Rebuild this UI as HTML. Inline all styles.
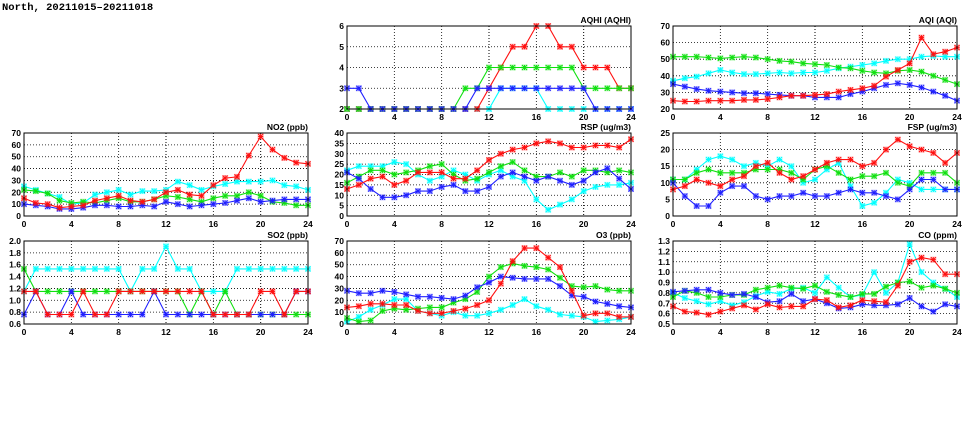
<!DOCTYPE html>
<html><head><meta charset="utf-8"><style>
body{margin:0;background:#fff;width:975px;height:447px;overflow:hidden}
svg{display:block}
text{font-family:"Liberation Sans",sans-serif;font-weight:bold;font-size:8.5px;fill:#000}
</style></head><body>
<svg id="chart" width="975" height="447" viewBox="0 0 975 447" xmlns="http://www.w3.org/2000/svg">
<text x="2" y="10" style="font-family:'Liberation Mono',monospace;font-size:10.5px">North, 20211015–20211018</text>
</svg>
<script>
const hours = [0,1,2,3,4,5,6,7,8,9,10,11,12,13,14,15,16,17,18,19,20,21,22,23,24];
const xTicks = [0,4,8,12,16,20,24];

const aqhiRed   = [2,2,2,2,2,2,2,2,2,2,2,2,3,4,5,5,6,6,5,5,4,4,4,3,3];
const aqhiGreen = [2,2,2,2,2,2,2,2,2,2,3,3,4,4,4,4,4,4,4,4,3,3,3,3,3];
const aqhiBlue  = [3,3,2,2,2,2,2,2,2,2,2,3,3,3,3,3,3,3,3,3,3,2,2,2,2];
const aqhiCyan  = [2,2,2,2,2,2,2,2,2,2,2,2,2,3,3,3,3,2,2,2,2,2,2,2,2];
const aqhiTicks = [2,3,4,5,6];

const aqiRed   = [25,24.5,24.5,25,25,25,25.5,25.5,26,27,28,28,28.5,29,30.5,31.5,32.5,34,39.5,43.5,47.5,63,53,54.5,57];
const aqiGreen = [51.5,51.5,51.5,51,50.5,51,51.5,51,50,49,48.5,47.5,47,46.5,45,44.5,43,42,41.5,43,43.5,42.5,40,37.5,35];
const aqiBlue  = [35,33.5,32,31,30.5,30,29.5,29.5,29,28.5,28,28,27,27,27,29,30.5,32.5,34.5,35.5,34.5,33,30.5,28,25];
const aqiCyan  = [37,38.5,39.5,41.5,43.5,42,41,41,41.5,42,41.5,42,42,43,44.5,45.5,46.5,47.5,49,50,50,51.5,52,51.5,51.5];
const aqiTicks = [20,30,40,50,60,70];

const no2Red   = [15,11,10,7,8,9,13,15,17,13,12,14,20,22,18,17,26,32,33,51,67,56,49,45,44];
const no2Green = [22,21,19,13,11,12,11,13,15,12,12,14,17,16,14,12,15,17,17,20,17,12,11,9,9];
const no2Blue  = [10,9,8,6,6,7,9,9,8,8,9,8,12,10,8,9,10,11,13,15,12,13,14,14,14];
const no2Cyan  = [25,22,19,16,10,11,18,20,22,18,21,21,22,29,26,22,25,27,29,29,29,30,26,25,22];
const no2Ticks = [0,10,20,30,40,50,60,70];

const rspRed   = [13,15,18,19,15,17,21,21,21,18,18,22,27,30,32,33,35,36,35,33,33,34,34,33,37];
const rspGreen = [16,19,22,22,20,21,22,24,25,20,17,18,21,24,26,22,19,19,21,19,22,22,21,22,21];
const rspBlue  = [21,18,13,9,9,10,12,12,14,15,12,12,14,19,21,19,17,19,17,15,17,21,23,18,13];
const rspCyan  = [22,24,24,24,26,25,20,17,19,22,20,17,20,22,19,17,8,3,5.5,8,12,14,15,15,16];
const rspTicks = [0,5,10,15,20,25,30,35,40];

const fspRed   = [8,9,11,10,9,11,12,15,16,13,11,12,14,16,17,17,15,16,20,23,21,20,19,16,19];
const fspGreen = [11,11,13,14,13,13,13,14,14,14,13,11,14,15,13,11,12,12,13,10,9,13,13,13,10];
const fspBlue  = [10,6,3,3,7,9,9,6,5,6,6,7,6,6,7,8,7,7,6,5,8,11,11,8,8];
const fspCyan  = [11,11,14,17,18,17,15,16,15,17,15,10,11,14,16,9,3,4,7,11,10,8,8,8,8];
const fspTicks = [0,5,10,15,20,25];

const so2Red   = [1.15,1.15,0.76,0.76,0.76,1.15,0.76,0.76,1.15,1.15,1.15,1.15,1.15,1.15,1.15,1.15,0.76,0.76,0.76,0.76,1.15,1.15,0.76,1.15,1.15];
const so2Green = [1.53,1.15,1.15,1.15,1.15,1.15,1.15,1.15,1.15,1.15,1.15,1.15,1.15,1.15,0.76,1.15,0.76,1.15,0.76,0.76,0.76,0.76,0.76,0.76,0.76];
const so2Blue  = [0.76,1.15,0.76,0.76,1.15,0.76,0.76,0.76,0.76,0.76,0.76,1.15,0.76,0.76,0.76,0.76,0.76,0.76,0.76,0.76,0.76,0.76,0.76,1.15,1.15];
const so2Cyan  = [1.15,1.53,1.53,1.53,1.53,1.53,1.53,1.53,1.53,1.15,1.53,1.53,1.91,1.53,1.53,1.15,1.15,1.15,1.53,1.53,1.53,1.53,1.53,1.53,1.53];
const so2Ticks = [0.6,0.8,1.0,1.2,1.4,1.6,1.8,2.0];

const o3Red   = [14,15,17,17,16,16,11,9,9,11,13,16,20,34,53,64,64,56,48,28,7,9,9,6,6];
const o3Green = [5,2,3,11,13,12,13,14,14,18,21,27,40,48,51,49,48,46,39,32,31,32,29,28,28];
const o3Blue  = [28,26,26,28,27,25,23,23,22,21,24,31,35,40,39,38,38,38,32,24,23,19,17,15,14];
const o3Cyan  = [2,6,12,16,21,21,11,9,7,10,7,7,9,12,16,21,15,12,8,7,6,2,3,4,6];
const o3Ticks = [0,10,20,30,40,50,60,70];

const coRed   = [0.67,0.62,0.61,0.59,0.62,0.65,0.68,0.64,0.69,0.66,0.67,0.67,0.74,0.73,0.66,0.68,0.73,0.72,0.71,0.87,1.10,1.14,1.12,0.98,0.98];
const coGreen = [0.76,0.82,0.80,0.76,0.76,0.78,0.78,0.83,0.85,0.87,0.85,0.84,0.87,0.81,0.78,0.76,0.79,0.79,0.86,0.90,0.91,0.85,0.87,0.84,0.80];
const coBlue  = [0.81,0.82,0.83,0.83,0.80,0.78,0.79,0.76,0.71,0.72,0.79,0.72,0.74,0.70,0.65,0.66,0.69,0.68,0.68,0.69,0.75,0.67,0.62,0.69,0.67];
const coCyan  = [0.80,0.75,0.72,0.69,0.72,0.68,0.71,0.77,0.81,0.79,0.84,0.85,0.80,0.95,0.85,0.76,0.78,1.00,0.80,0.90,1.27,1.00,0.90,0.84,0.76];
const coTicks = [0.5,0.6,0.7,0.8,0.9,1.0,1.1,1.2,1.3];

const NS = 'http://www.w3.org/2000/svg';
const svg = document.getElementById('chart');
function mk(tag, attrs, parent){const e=document.createElementNS(NS,tag);for(const k in attrs)e.setAttribute(k,attrs[k]);(parent||svg).appendChild(e);return e;}

const COLORS = {red:'#ff1010', green:'#10e010', blue:'#2020ff', cyan:'#00ffff'};

function panel(key, title, left, top, ticks, dec, series){
  const W = 284, H = 83;
  const ymin = ticks[0], ymax = ticks[ticks.length-1];
  const xs = h => left + h / 24 * W;
  const ys = v => top + H - (v - ymin) / (ymax - ymin) * H;
  const g = mk('g', {});
  
  
  ticks.forEach(t => {
    const y = ys(t);
    const gl = mk('line', {x1:left, x2:left+W, y1:y, y2:y, stroke:'#000', 'stroke-width':0.8, 'stroke-dasharray':'1,2'}, g);
    
    
    const tl = mk('text', {x:left-3, y:y+3, 'text-anchor':'end'}, g);
    tl.textContent = t.toFixed(dec);
    
    
  });
  xTicks.forEach(t => {
    const x = xs(t);
    const gl = mk('line', {x1:x, x2:x, y1:top, y2:top+H, stroke:'#000', 'stroke-width':(t===12||t===20)?1:0.8, 'stroke-dasharray':'1,2'}, g);
    
    
    const tl = mk('text', {x:x, y:top+H+11, 'text-anchor':'middle'}, g);
    tl.textContent = t;
    
    
  });
  const tt = mk('text', {x:left+W, y:top-3, 'text-anchor':'end'}, g);
  tt.textContent = title;
  
  
  series.forEach(([cname, vals]) => {
    const c = COLORS[cname];
    const sg = mk('g', {}, g);
    
    
    const pts = [];
    vals.forEach((v,i) => { if (v !== null) pts.push([xs(hours[i]), ys(v)]); });
    const pl = mk('polyline', {points: pts.map(p => p[0].toFixed(1)+','+p[1].toFixed(1)).join(' '), fill:'none', stroke:c, 'stroke-width':1.1}, sg);
    
    
    pts.forEach(([x,y]) => {
      const r = 2.5;
      const p = mk('path', {d:`M${x-r},${y-r}L${x+r},${y+r}M${x-r},${y+r}L${x+r},${y-r}M${x-r},${y}L${x+r},${y}M${x},${y-r}L${x},${y+r}`, stroke:c, 'stroke-width':1, fill:'none'}, sg);
      
      
      const b = mk('rect', {x:x-r, y:y-r, width:2*r, height:2*r, stroke:c, 'stroke-opacity':0.35, 'stroke-width':1, fill:'none'}, sg);
      
      
    });
  });
  const box = mk('rect', {x:left, y:top, width:W, height:H, fill:'none', stroke:'#000', 'stroke-width':1}, g);
  
  
}

const C1 = 24, C2 = 347, C3 = 673;
const R1 = 26, R2 = 133, R3 = 241;
panel('aqhi', 'AQHI (AQHI)', C2, R1, aqhiTicks, 0, [['cyan',aqhiCyan],['red',aqhiRed],['green',aqhiGreen],['blue',aqhiBlue]]);
panel('aqi', 'AQI (AQI)', C3, R1, aqiTicks, 0, [['cyan',aqiCyan],['green',aqiGreen],['blue',aqiBlue],['red',aqiRed]]);
panel('no2', 'NO2 (ppb)', C1, R2, no2Ticks, 0, [['cyan',no2Cyan],['green',no2Green],['blue',no2Blue],['red',no2Red]]);
panel('rsp', 'RSP (ug/m3)', C2, R2, rspTicks, 0, [['cyan',rspCyan],['green',rspGreen],['blue',rspBlue],['red',rspRed]]);
panel('fsp', 'FSP (ug/m3)', C3, R2, fspTicks, 0, [['cyan',fspCyan],['green',fspGreen],['blue',fspBlue],['red',fspRed]]);
panel('so2', 'SO2 (ppb)', C1, R3, so2Ticks, 1, [['cyan',so2Cyan],['green',so2Green],['blue',so2Blue],['red',so2Red]]);
panel('o3', 'O3 (ppb)', C2, R3, o3Ticks, 0, [['cyan',o3Cyan],['green',o3Green],['blue',o3Blue],['red',o3Red]]);
panel('co', 'CO (ppm)', C3, R3, coTicks, 1, [['cyan',coCyan],['green',coGreen],['blue',coBlue],['red',coRed]]);
</script>
</body></html>
